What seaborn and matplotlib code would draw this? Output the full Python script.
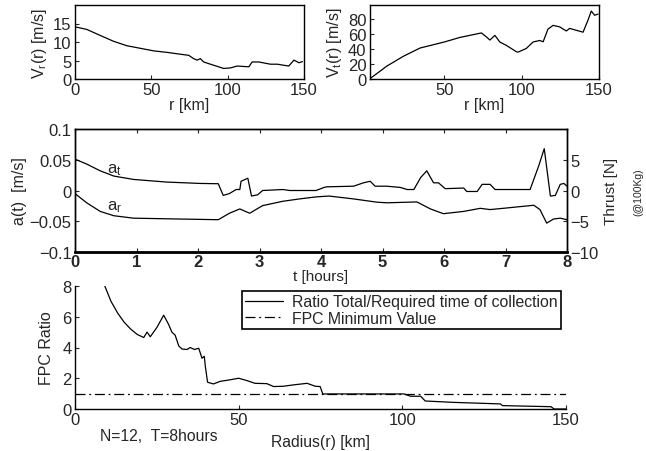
import numpy as np
import pandas as pd
import seaborn as sns
import matplotlib
matplotlib.use("Agg")
import matplotlib.pyplot as plt

# ---------------- data ----------------
vr_r = [0, 7.7, 16.4, 25.2, 33.9, 42.7, 51.5, 60.2, 69, 74.5, 77.7, 80, 82.1, 84.3, 88.7,
        97.4, 101.8, 106.2, 113.9, 116, 120.4, 128, 132.5, 140, 143.4, 146.7, 149]
vr_v = [14.1, 13.4, 11.8, 10.2, 9.0, 8.3, 7.6, 7.2, 6.7, 6.4, 5.5, 5.1, 5.5, 4.6, 4.0,
        2.85, 3.0, 3.5, 3.3, 4.6, 4.6, 4.0, 4.0, 3.5, 5.1, 4.4, 4.7]

vt_r = [2.5, 6.3, 12.8, 23.5, 34.3, 50, 60, 74, 77.3, 79.5, 82.7, 85.9, 90.2, 96.7, 97.7,
        103, 107.4, 111.7, 113.9, 117, 120.3, 124.6, 128.9, 131, 139.7, 142.9, 145, 147.2, 149.4]
vt_v = [1.3, 7, 17, 30, 41, 49, 55, 61, 55.6, 51.6, 57.8, 49, 44.4, 36, 35.6,
        40.4, 49, 51, 49.3, 66, 71, 69, 63.6, 67, 62, 78, 90, 84.4, 86]

at_t = [0, 0.19, 0.41, 0.63, 0.95, 1.49, 2.03, 2.33, 2.41, 2.51, 2.62, 2.68, 2.7, 2.81, 2.87,
        2.97, 3.05, 3.38, 3.49, 3.92, 4.05, 4.1, 4.53, 4.69, 4.8, 4.88, 5.07, 5.29, 5.4, 5.51,
        5.62, 5.72, 5.83, 5.91, 6.02, 6.32, 6.37, 6.54, 6.62, 6.75, 6.83, 7.4, 7.54, 7.63,
        7.73, 7.81, 7.89, 7.95, 8.0]
at_v = [0.051, 0.043, 0.032, 0.0235, 0.018, 0.0137, 0.0115, 0.011, -0.008, -0.005, 0.0016,
        0.0016, 0.015, 0.02, -0.009, -0.007, 0.0, 0.0016, 0.0, 0.0, 0.005, 0.006, 0.007,
        0.0125, 0.015, 0.007, 0.007, 0.005, 0.0016, 0.0016, 0.021, 0.032, 0.0125, 0.0125,
        0.003, 0.004, -0.0016, -0.0016, 0.01, 0.01, 0.0016, 0.0016, 0.04, 0.068, -0.009,
        -0.008, 0.01, 0.0115, 0.007]

ar_t = [0, 0.19, 0.41, 0.63, 0.95, 1.49, 2.33, 2.51, 2.68, 2.84, 3.05, 3.38, 3.65, 3.92,
        4.13, 4.53, 4.91, 5.07, 5.56, 5.78, 5.99, 6.32, 6.59, 6.75, 7.02, 7.46, 7.56, 7.67,
        7.78, 7.89, 8.0]
ar_v = [-0.005, -0.02, -0.034, -0.041, -0.045, -0.046, -0.0475, -0.037, -0.030, -0.037,
        -0.0246, -0.0175, -0.0137, -0.0104, -0.009, -0.0137, -0.019, -0.02, -0.0186, -0.03,
        -0.0377, -0.034, -0.029, -0.031, -0.0284, -0.024, -0.031, -0.053, -0.0464, -0.045,
        -0.0475]

fpc_r = [9.1, 11, 13, 15, 17, 19, 21, 22, 23, 25, 27.1, 28.6, 29.6, 30.6, 31.7, 32.7, 34.2,
         35.2, 36.5, 37.8, 38.8, 39.5, 39.8, 40.5, 42.3, 44.4, 47.4, 50, 52.5, 55, 58.6,
         60.7, 63.7, 66.8, 70.9, 73.4, 74.9, 75.7, 100.5, 102.5, 105.6, 107, 115.8, 130,
         130.6, 145.4, 146.4, 150]
fpc_v = [8.0, 7.0, 6.25, 5.65, 5.2, 4.85, 4.65, 5.0, 4.7, 5.3, 6.1, 5.5, 5.0, 4.8, 4.1, 3.9,
         3.87, 4.0, 3.87, 3.95, 3.3, 3.43, 2.8, 1.74, 1.63, 1.8, 1.9, 2.0, 1.85, 1.67, 1.65,
         1.46, 1.48, 1.57, 1.67, 1.48, 1.46, 0.98, 0.98, 0.83, 0.83, 0.52, 0.43, 0.33, 0.22,
         0.15, 0.0, 0.0]
fpc_min_r = [0, 150]
fpc_min_v = [1, 1]

# ---------------- style ----------------
sns.set_style("ticks")
plt.rcParams['font.family'] = ['Liberation Sans', 'DejaVu Sans']
plt.rcParams['mathtext.fontset'] = 'custom'
plt.rcParams['mathtext.rm'] = 'Liberation Sans'
plt.rcParams['mathtext.it'] = 'Liberation Sans'
plt.rcParams['font.size'] = 11.5
plt.rcParams['xtick.direction'] = 'in'
plt.rcParams['ytick.direction'] = 'in'
plt.rcParams['xtick.major.size'] = 3
plt.rcParams['ytick.major.size'] = 3
plt.rcParams['xtick.major.pad'] = 2.5
plt.rcParams['ytick.major.pad'] = 2.5
plt.rcParams['xtick.labelsize'] = 12
plt.rcParams['ytick.labelsize'] = 12
plt.rcParams['axes.linewidth'] = 1.0
plt.rcParams['axes.edgecolor'] = 'black'

W, H = 646, 452
fig = plt.figure(figsize=(W / 100, H / 100), dpi=100)

def box(x0, y0, x1, y1):
    return [x0 / W, 1 - y1 / H, (x1 - x0) / W, (y1 - y0) / H]

lw = 0.9

# top-left
ax1 = fig.add_axes(box(75, 6, 304, 80))
sns.lineplot(x=vr_r, y=vr_v, ax=ax1, color='black', lw=lw, sort=False)
ax1.set_xlim(0, 150)
ax1.set_ylim(0, 20)
ax1.set_xticks([0, 50, 100, 150])
ax1.set_yticks([0, 5, 10, 15])
ax1.set_xlabel('r [km]', labelpad=0)
ax1.set_ylabel(r'V$_\mathregular{r}$(r) [m/s]', labelpad=3)

# top-right
ax2 = fig.add_axes(box(370, 6, 599, 80))
sns.lineplot(x=vt_r, y=vt_v, ax=ax2, color='black', lw=lw, sort=False)
ax2.set_xlim(2, 150)
ax2.set_ylim(0, 98)
ax2.set_xticks([50, 100, 150])
ax2.set_yticks([0, 20, 40, 60, 80])
ax2.set_xlabel('r [km]', labelpad=0)
ax2.set_ylabel(r'V$_\mathregular{t}$(r) [m/s]', labelpad=3)

# middle
ax3 = fig.add_axes(box(75, 130, 567, 253))
sns.lineplot(x=at_t, y=at_v, ax=ax3, color='black', lw=lw, sort=False)
sns.lineplot(x=ar_t, y=ar_v, ax=ax3, color='black', lw=lw, sort=False)
ax3.set_xlim(0, 8)
ax3.set_ylim(-0.1, 0.1)
ax3.set_xticks(range(9))
for lab in ax3.get_xticklabels():
    lab.set_fontweight('bold')
ax3.tick_params(axis='x', pad=1.5)
ax3.set_yticks([-0.1, -0.05, 0, 0.05, 0.1])
ax3.set_yticklabels(['\u22120.1', '\u22120.05', '0', '0.05', '0.1'])
ax3.tick_params(top=True)
ax3.spines['bottom'].set_linewidth(2.0)
ax3.set_xlabel('t [hours]', labelpad=0, fontsize=11)
ax3.set_ylabel('a(t)  [m/s]', labelpad=2, fontsize=11.5)
ax3.text(0.52, 0.030, r'a$_\mathregular{t}$', fontsize=12)
ax3.text(0.52, -0.031, r'a$_\mathregular{r}$', fontsize=12)
ax3r = ax3.twinx()
ax3r.set_ylim(-10, 10)
ax3r.set_yticks([-10, -5, 0, 5])
ax3r.set_yticklabels(['\u221210', '\u22125', '0', '5'])
ax3r.tick_params(direction='in', length=3)
ax3r.set_ylabel('Thrust [N]', labelpad=4, fontsize=11)
fig.text(638 / W, 1 - 192 / H, '(@100Kg)', rotation=90, fontsize=7.5, ha='center', va='center')

# bottom
ax4 = fig.add_axes(box(75, 287, 566, 410))
sns.lineplot(x=fpc_r, y=fpc_v, ax=ax4, color='black', lw=lw, sort=False,
             label='Ratio Total/Required time of collection')
sns.lineplot(x=fpc_min_r, y=fpc_min_v, ax=ax4, color='black', lw=lw, sort=False,
             linestyle=(0, (8, 3, 1.5, 3)), label='FPC Minimum Value')
ax4.set_xlim(0, 150)
ax4.set_ylim(0, 8)
ax4.set_xticks([0, 50, 100, 150])
ax4.set_yticks([0, 2, 4, 6, 8])
ax4.spines['top'].set_visible(False)
ax4.spines['right'].set_visible(False)
ax4.set_xlabel('Radius(r) [km]', labelpad=5, fontsize=11.3)
ax4.set_ylabel('FPC Ratio', labelpad=6)
leg = ax4.legend(loc='upper right', bbox_to_anchor=((561 - 75) / 491, (410 - 292) / 123),
                 frameon=True, fancybox=False, edgecolor='black', framealpha=1,
                 borderpad=0.2, labelspacing=0.1, handlelength=2.4, handletextpad=0.6,
                 borderaxespad=0, fontsize=11.4)
leg.get_frame().set_linewidth(1.2)
fig.text(100 / W, 1 - 437 / H, 'N=12,  T=8hours', fontsize=11.3, ha='left', va='center')

fig.savefig('out.png', dpi=100)
